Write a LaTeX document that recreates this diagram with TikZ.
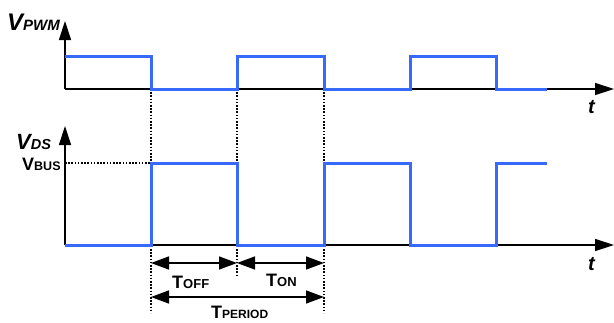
\documentclass[tikz,border=0pt]{standalone}
\usepackage{fontspec}
\setmainfont{Liberation Sans}
\usetikzlibrary{arrows.meta}
\definecolor{wave}{RGB}{55,105,250}
\newcommand{\lbl}[4]{{\fontsize{#1}{#1}\selectfont #2}{\fontsize{#3}{#3}\selectfont #4}}
\begin{document}
\begin{tikzpicture}[x=1pt,y=-1pt,
  axis/.style={line width=1.4pt,-{Triangle[length=19pt,width=12pt]}},
  wavy/.style={wave,line width=3pt,line join=miter,line cap=butt},
  guide/.style={line width=1.3pt,dash pattern=on 1.6pt off 1.6pt},
  dim/.style={line width=1.4pt,{Triangle[length=18pt,width=13pt]}-{Triangle[length=18pt,width=13pt]}},
  txt/.style={inner sep=0pt,anchor=base west}]
\useasboundingbox (0,0) rectangle (614,322);
% coordinates
\coordinate (o1) at (65,89);
\coordinate (y1) at (65,21);
\coordinate (x1) at (614,89);
\coordinate (o2) at (65,245);
\coordinate (y2) at (65,126);
\coordinate (x2) at (614,245);
% axes
\draw[axis] (o1) -- (y1);
\draw[axis] (o1) -- (x1);
\draw[axis] (o2) -- (y2);
\draw[axis] (o2) -- (x2);
% dotted guides
\coordinate (ga1) at (151,89); \coordinate (gb1) at (151,313);
\coordinate (ga2) at (237,89); \coordinate (gb2) at (237,276);
\coordinate (ga3) at (324,89); \coordinate (gb3) at (324,313);
\coordinate (vb0) at (65,163); \coordinate (vb1) at (151,163);
\draw[guide] (ga1) -- (gb1);
\draw[guide] (ga2) -- (gb2);
\draw[guide] (ga3) -- (gb3);
\draw[guide] (vb0) -- (vb1);
% waveforms
\draw[wavy] (65,56) -- (151,56) -- (151,89) -- (237,89) -- (237,56) -- (324,56) -- (324,89)
  -- (410,89) -- (410,56) -- (496,56) -- (496,89) -- (547,89);
\draw[wavy] (65,245) -- (151,245) -- (151,163) -- (237,163) -- (237,245) -- (324,245) -- (324,163)
  -- (410,163) -- (410,245) -- (496,245) -- (496,163) -- (547,163);
% dimension arrows
\coordinate (d1) at (151,263); \coordinate (d2) at (237,263); \coordinate (d3) at (324,263);
\coordinate (p1) at (151,297); \coordinate (p3) at (324,297);
\draw[dim] (d1) -- (d2);
\draw[dim] (d2) -- (d3);
\draw[dim] (p1) -- (p3);
% labels
\node[txt] (lpwm) at (7,30) {\bfseries\itshape\lbl{24}{V}{15}{PWM}};
\node[txt] (lds) at (16,149) {\bfseries\itshape\lbl{22}{V}{14.5}{DS}};
\node[txt] (lbus) at (22,170) {\bfseries\lbl{18}{V}{12.5}{BUS}};
\node[txt] (t1) at (588,113) {\bfseries\itshape\fontsize{20}{20}\selectfont t};
\node[txt] (t2) at (588,270) {\bfseries\itshape\fontsize{20}{20}\selectfont t};
\node[txt] (toff) at (172,288) {\bfseries\lbl{18}{T}{13}{OFF}};
\node[txt] (ton) at (266,286) {\bfseries\lbl{18}{T}{13}{ON}};
\node[txt] (tper) at (211,318) {\bfseries\lbl{18}{T}{12}{PERIOD}};
\end{tikzpicture}
\end{document}
